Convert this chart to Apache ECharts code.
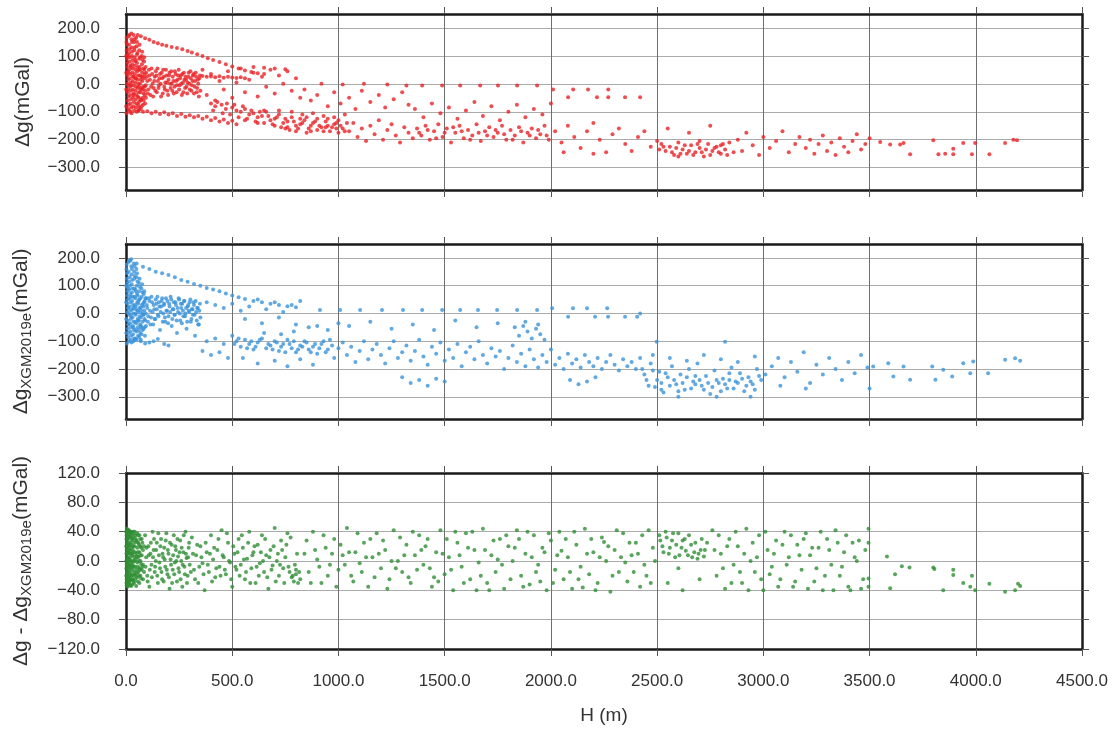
<!DOCTYPE html>
<html>
<head>
<meta charset="utf-8">
<title>Δg vs H</title>
<script src="https://cdn.jsdelivr.net/npm/echarts@6/dist/echarts.min.js"></script>
<style>
  html, body { margin: 0; padding: 0; background: #fff; }
  #chart { width: 1115px; height: 731px; }
</style>
</head>
<body>
<div id="chart"></div>
<script>
// tick values
const xTicks = [0, 500, 1000, 1500, 2000, 2500, 3000, 3500, 4000, 4500];
const gTicks = [-300, -200, -100, 0, 100, 200];
const diffTicks = [-120, -80, -40, 0, 40, 80, 120];

// panel 1: Δg (mGal) against H (m)
const dgObs = [
  // blob near H=0
  [2,150],[3,120],[4,90],[5,60],[6,30],[7,0],[8,-30],[9,-60],[10,-90],[3,-105],[12,170],[14,140],[15,110],[16,80],[17,50],[18,20],[19,-10],[20,-40],[21,-70],[22,-100],
  [25,180],[26,160],[27,130],[28,100],[29,70],[30,40],[31,10],[32,-20],[33,-50],[34,-80],[36,175],[38,150],[39,120],[40,95],[41,65],[42,35],[43,5],[44,-25],[45,-55],[46,-85],
  [48,165],[50,135],[51,105],[52,75],[53,45],[54,15],[55,-15],[56,-45],[57,-75],[58,-95],[62,120],[63,90],[64,60],[65,30],[66,0],[67,-30],[68,-60],[70,-90],
  [74,100],[75,70],[76,40],[77,10],[78,-20],[79,-50],[80,-75],[85,80],[86,50],[87,20],[88,-10],[89,-40],[90,-70],
  [1,100],[1,40],[1,-20],[1,-80],[11,100],[11,40],[11,-20],[23,60],[23,-5],[35,25],[35,-40],[47,85],[47,20],[60,50],[60,-10],[60,-50],[72,25],[72,-15],[82,55],[82,-35],
  [3,165],[5,140],[6,105],[7,75],[9,45],[10,15],[11,-5],[12,-45],[13,-75],[14,-95],[15,175],[17,125],[18,95],[20,65],[21,35],[22,5],[23,-25],[24,-55],[25,-85],[26,-105],
  [28,150],[29,115],[31,85],[32,55],[33,25],[34,-5],[36,-35],[37,-65],[38,-95],[40,160],[41,130],[43,80],[44,50],[45,20],[46,-10],[48,-40],[49,-70],[50,-100],[52,150],[54,110],
  [55,60],[57,30],[58,0],[59,-30],[61,-65],[62,-85],[64,140],[66,95],[67,50],[69,15],[70,-20],[71,-55],[73,-80],[76,115],[78,85],[80,25],[81,-10],[83,-60],[86,95],[88,35],
  [90,-25],[92,60],[93,-5],[94,-50],
  // upper arc
  [55,175],[70,170],[90,163],[110,158],[130,150],[150,145],[170,140],[190,136],[215,132],[240,128],[265,124],[290,118],[310,112],[335,106],[360,100],[385,92],[410,85],[440,78],[470,70],[500,62],[530,55],[560,48],[590,42],[620,38],[650,35],
  // band 90-350
  [95,40],[100,10],[105,-20],[110,30],[115,-40],[120,55],[125,0],[130,-15],[135,25],[140,45],[145,-30],[150,10],[155,-5],[160,35],[165,-45],[170,20],[175,50],[180,-10],[185,5],[190,30],
  [195,-25],[200,15],[205,40],[210,-15],[215,0],[220,25],[225,-35],[230,45],[235,10],[240,-5],[245,30],[250,-20],[255,20],[260,0],[265,35],[270,-30],[275,15],[280,25],[285,-10],[290,5],
  [295,40],[300,-20],[305,20],[310,-5],[315,30],[320,-35],[325,10],[330,25],[335,-15],[340,0],[345,20],[350,-25],
  [98,25],[103,-35],[108,50],[113,15],[118,-10],[123,35],[128,-45],[133,10],[138,-25],[143,30],[148,55],[153,-15],[158,20],[163,0],[168,40],[173,-35],[178,25],[183,-20],[188,50],[193,5],
  [198,-40],[203,30],[208,0],[213,45],[218,-25],[223,10],[228,-10],[233,35],[238,-30],[243,15],[248,50],[253,-5],[258,30],[263,-40],[268,5],[273,40],[278,-15],[283,15],[288,-35],[293,25],
  [298,0],[303,45],[308,-25],[313,10],[318,35],[323,-10],[328,40],[333,-30],[338,15],[343,-45],[348,30],
  [360,28],[380,25],[400,26],[420,24],[440,27],[460,22],[480,25],[500,23],[520,21],[540,24],[560,20],
  // lower arm
  [60,-95],[80,-100],[100,-98],[120,-105],[140,-100],[160,-108],[180,-102],[200,-110],[220,-105],[240,-115],[260,-108],[280,-118],[300,-112],[320,-120],[340,-115],[360,-125],
  [380,-118],[400,-130],[420,-122],[440,-135],[460,-128],[480,-140],[500,-132],[520,-145],
  // scatter 350-820
  [360,50],[380,-40],[400,35],[420,-60],[440,10],[460,-20],[480,45],[500,-50],[520,5],[540,55],[560,-30],[580,15],[600,40],[620,-45],[640,25],[660,-10],[680,50],[700,-35],
  [720,30],[740,0],[760,45],[780,-25],[800,20],[820,-50],[600,60],[650,58],[700,55],[750,52],
  // descending band
  [400,-70],[420,-80],[450,-75],[470,-90],[500,-85],[520,-95],[540,-100],[560,-90],[580,-110],[600,-105],[620,-120],[640,-115],[660,-100],[680,-130],[700,-125],[720,-110],
  [740,-140],[760,-135],[780,-120],[800,-150],[820,-145],[840,-130],[860,-160],[880,-140],[900,-125],[920,-155],[940,-135],[960,-170],[980,-145],[1000,-130],[1020,-160],[1040,-140],
  [560,-130],[620,-140],[700,-150],[750,-160],[800,-170],[850,-175],[900,-165],[950,-150],[1000,-175],[650,-95],[720,-95],[780,-100],[830,-110],[880,-105],[930,-115],[980,-120],
  [1030,-110],[760,-155],[820,-125],[870,-150],[940,-155],[990,-160],
  [410,-95],[430,-65],[455,-105],[475,-70],[490,-110],[510,-75],[530,-120],[550,-80],[570,-125],[590,-95],[610,-135],[630,-100],[650,-140],[670,-115],[690,-145],[710,-120],
  [730,-155],[750,-125],[770,-165],[790,-135],[810,-160],[830,-140],[850,-120],[870,-170],[890,-135],[910,-150],[930,-170],[950,-125],[970,-155],[990,-140],[1010,-150],[1030,-170],
  [840,-20],[870,-60],[900,-40],[950,-80],[980,-30],[1010,-70],[1050,-50],[1080,-90],[1110,-25],[1150,-65],[1190,-40],[1220,-85],[1260,-55],[1300,-30],[1330,-75],
  // row near 0
  [920,0],[1020,-2],[1120,0],[1230,-2],[1320,-6],[1394,-6],[1488,-6],[1573,-6],[1667,-6],[1751,-6],[1841,-6],[1935,-6],
  [1050,-170],[1070,-140],[1090,-190],[1110,-160],[1130,-205],[1150,-150],[1170,-180],[1190,-130],[1210,-200],[1230,-165],[1250,-145],[1270,-185],[1290,-210],[1310,-155],[1330,-175],[1350,-195],
  [1360,-90],[1400,-120],[1440,-70],[1480,-105],[1520,-85],[1560,-125],[1600,-95],[1640,-65],[1680,-115],[1720,-80],[1760,-130],[1800,-100],[1840,-75],[1880,-120],[1920,-90],[1960,-110],[2000,-70],
  [1370,-160],[1390,-185],[1410,-150],[1430,-200],[1450,-170],[1470,-145],[1490,-190],[1510,-160],[1530,-210],[1550,-175],[1570,-150],[1590,-195],[1610,-165],[1630,-185],[1650,-145],[1670,-205],
  [1690,-170],[1710,-155],[1730,-190],[1750,-175],[1770,-150],[1790,-200],[1810,-165],[1830,-185],[1850,-155],[1870,-210],[1890,-175],[1910,-160],[1930,-195],[1950,-180],[1970,-150],[1990,-200],
  [1380,-175],[1420,-165],[1460,-195],[1500,-175],[1540,-155],[1580,-170],[1620,-200],[1660,-175],[1700,-185],[1740,-165],[1780,-180],[1820,-200],[1860,-170],[1900,-185],[1940,-165],[1980,-185],
  [2010,-20],[2105,-20],[2175,-20],[2270,-20],[2081,-48],[2217,-48],[2270,-48],[2349,-48],[2420,-48],
  [2020,-170],[2050,-210],[2080,-150],[2110,-190],[2140,-230],[2170,-170],[2200,-140],[2230,-200],[2260,-245],[2290,-180],[2320,-160],[2350,-215],[2380,-240],[2410,-190],[2440,-170],[2470,-225],[2500,-205],[2060,-245],[2200,-250],
  [2520,-215],[2540,-240],[2560,-225],[2580,-255],[2600,-210],[2620,-235],[2640,-250],[2660,-220],[2680,-245],[2700,-230],[2720,-260],[2740,-215],[2760,-240],[2780,-225],[2800,-250],[2820,-235],[2840,-210],[2860,-245],
  [2510,-235],[2530,-225],[2570,-245],[2590,-230],[2610,-250],[2630,-220],[2650,-240],[2670,-255],[2690,-215],[2710,-245],[2730,-235],[2750,-255],[2770,-230],[2790,-245],[2810,-215],[2830,-255],
  [2550,-160],[2650,-175],[2750,-150],[2600,-260],[2700,-205],[2800,-220],
  [2880,-200],[2900,-240],[2920,-175],[2950,-220],[2980,-255],[3000,-190],[3030,-230],[3060,-205],[3090,-170],[3120,-245],[3150,-215],[3170,-190],
  [3200,-230],[3220,-200],[3240,-250],[3260,-215],[3280,-185],[3300,-240],[3320,-210],[3340,-255],[3360,-195],[3380,-225],[3400,-245],[3420,-205],[3440,-180],[3460,-235],[3480,-215],[3500,-195],
  // tail
  [3550,-208],[3597,-217],[3644,-217],[3660,-212],[3691,-252],[3800,-202],[3824,-252],[3856,-250],[3894,-232],[3894,-252],[3941,-212],[3982,-252],[3997,-212],[4064,-252],[4138,-212],[4177,-200],[4194,-202]
];

// panel 2: Δg XGM2019e (mGal)
const dgModel = [
  [2,160],[3,125],[4,95],[5,65],[6,35],[7,5],[8,-25],[9,-55],[10,-85],[4,-108],[12,185],[13,150],[14,115],[15,85],[16,55],[17,25],[18,-5],[19,-35],[20,-65],[21,-95],
  [24,195],[25,170],[26,140],[27,105],[28,75],[29,45],[30,15],[31,-15],[32,-45],[33,-75],[34,-100],[37,180],[38,150],[39,125],[40,90],[41,60],[42,30],[43,0],[44,-30],[45,-60],[46,-90],
  [49,160],[50,130],[51,100],[52,70],[53,40],[54,10],[55,-20],[56,-50],[57,-80],[61,110],[62,80],[63,50],[64,20],[65,-10],[66,-40],[67,-70],[69,-95],
  [73,90],[74,60],[75,30],[76,0],[77,-30],[78,-60],[84,70],[85,40],[86,10],[87,-20],[88,-50],[89,-80],
  [1,100],[1,40],[1,-20],[1,-70],[11,90],[11,20],[11,-40],[23,60],[23,-10],[35,20],[35,-50],[47,80],[47,15],[59,45],[59,-25],[71,10],[71,-45],[82,25],[82,-5],
  [3,175],[5,145],[6,110],[7,80],[9,50],[10,20],[11,0],[12,-40],[13,-70],[14,-100],[15,190],[17,130],[18,100],[20,70],[21,40],[22,10],[23,-20],[24,-50],[25,-80],[26,-105],
  [28,160],[29,120],[31,90],[32,60],[33,30],[34,0],[36,-30],[37,-60],[38,-90],[40,170],[41,135],[43,85],[44,55],[45,25],[46,-5],[48,-35],[49,-65],[50,-95],[52,145],[54,115],
  [55,65],[57,35],[58,5],[59,-25],[61,-60],[62,-85],[64,125],[66,95],[67,55],[69,20],[70,-15],[71,-50],[73,-75],[76,105],[78,75],[80,35],[81,-5],[83,-55],[86,80],[88,45],
  [90,-25],[92,55],[93,0],[94,-45],
  [20,190],[50,180],[80,168],[110,160],[140,150],[170,145],[200,138],[230,130],[260,120],[290,114],[320,106],[350,100],[380,92],[410,86],[440,80],[470,72],[500,65],[530,58],[560,52],
  [600,45],[640,40],[680,35],[720,30],[760,26],[800,22],
  [95,55],[100,20],[105,-10],[110,45],[115,-40],[120,60],[125,5],[130,30],[135,-20],[140,50],[145,15],[150,-5],[155,40],[160,-60],[165,25],[170,55],[175,0],[180,35],[185,-30],[190,10],
  [195,45],[200,-10],[205,25],[210,60],[215,-45],[220,15],[225,40],[230,-5],[235,30],[240,-70],[245,5],[250,50],[255,-25],[260,20],[265,35],[270,-10],[275,45],[280,0],[285,-55],[290,25],
  [295,10],[300,40],[305,-30],[310,15],[315,-5],[320,30],[325,-80],[330,5],[335,20],[340,-40],[345,10],[350,-15],
  [98,30],[103,-30],[108,55],[113,10],[118,-15],[123,40],[128,-40],[133,15],[138,-20],[143,35],[148,60],[153,-10],[158,25],[163,5],[168,45],[173,-30],[178,30],[183,-15],[188,55],[193,10],
  [198,-35],[203,35],[208,5],[213,50],[218,-20],[223,15],[228,-5],[233,40],[238,-25],[243,20],[248,55],[253,0],[258,35],[263,-35],[268,10],[273,45],[278,-10],[283,20],[288,-30],[293,30],
  [298,5],[303,50],[308,-20],[313,15],[318,40],[323,-5],[328,45],[333,-25],[338,20],[343,-40],[348,35],
  [40,-95],[70,-100],[110,-105],[150,-92],[180,-110],[200,-115],[130,-100],[90,-108],
  [360,-135],[400,-150],[440,-140],[480,-160],[380,-100],[420,-90],[460,-110],
  [380,40],[420,30],[460,20],[500,35],[540,10],[580,25],[620,50],[660,15],[700,40],[740,5],[780,30],[820,45],[560,-20],[640,-35],[720,-15],[800,-40],[860,-50],[900,-45],[950,-60],[1000,-35],
  [500,-80],[520,-100],[540,-120],[560,-95],[580,-110],[600,-130],[620,-105],[640,-90],[660,-125],[680,-115],[700,-100],[720,-135],[740,-110],[760,-95],[780,-125],[800,-140],[820,-115],
  [840,-100],[860,-130],[880,-120],[900,-145],[550,-160],[620,-180],[700,-170],[760,-190],[820,-165],[880,-185],[650,-70],[730,-75],[790,-65],
  [510,-110],[530,-90],[570,-125],[590,-100],[610,-120],[630,-95],[670,-110],[690,-130],[710,-105],[730,-120],[750,-140],[770,-110],[790,-100],[810,-130],[830,-120],[850,-105],
  [870,-140],[890,-110],[910,-125],[930,-100],[950,-130],[970,-115],
  [920,-110],[940,-140],[960,-95],[980,-160],[1000,-125],[1020,-105],[1040,-150],[1060,-120],[1080,-175],[1100,-135],[1120,-100],[1140,-165],[1160,-130],[1180,-110],[1200,-150],[1220,-180],
  [1240,-125],[1260,-100],[1280,-160],[1300,-140],[1320,-115],[1340,-170],[1360,-135],[1380,-95],[1400,-155],[1420,-185],[1440,-120],[1460,-145],[1480,-105],[1500,-170],[1520,-130],[1540,-160],
  [1560,-110],[1580,-190],[1600,-140],[1620,-120],[1640,-165],[1660,-100],[1680,-150],[1700,-180],[1720,-125],[1740,-155],[1760,-135],[1780,-200],[1800,-160],[1820,-115],[1840,-175],[1860,-145],
  [1880,-190],[1900,-130],[1920,-165],[1940,-195],[1960,-150],[1980,-175],[2000,-130],[2020,-185],[2040,-160],[2060,-200],[2080,-145],[2100,-180],[2120,-165],[2140,-195],[2160,-150],[2180,-175],
  [2200,-190],[2220,-160],[2240,-200],[2260,-175],[2280,-150],[2300,-185],[2320,-205],[2340,-165],[2360,-190],[2380,-175],[2400,-200],[2420,-160],
  [1050,-45],[1150,-30],[1250,-55],[1350,-40],[1450,-60],[1550,-25],[1650,-50],[1750,-35],
  [1830,-50],[1850,-80],[1870,-45],[1890,-65],[1910,-90],[1930,-55],[1950,-75],[1970,-95],[1880,-30],[1940,-40],
  [1300,-230],[1340,-250],[1380,-240],[1420,-260],[1460,-235],[1500,-245],[2090,-240],[2130,-255],[2170,-245],[2210,-230],
  [913,12],[1008,12],[1102,12],[1205,12],[1304,12],[1394,12],[1488,12],[1573,12],[1657,12],[1747,12],[1841,12],[1935,12],
  [2006,19],[2081,-12],[2104,19],[2170,19],[2208,-12],[2265,19],[2269,-12],[2349,-12],[2406,-12],[2420,0],[2498,-102],[2820,-102],
  [2430,-200],[2450,-240],[2470,-180],[2490,-265],[2510,-210],[2530,-285],[2550,-230],[2570,-190],[2590,-255],[2610,-220],[2630,-275],[2650,-200],[2670,-245],[2690,-180],[2710,-260],
  [2730,-225],[2750,-290],[2770,-205],[2790,-250],[2810,-235],[2830,-270],[2850,-195],[2870,-245],[2890,-215],[2910,-280],[2930,-230],[2950,-255],[2970,-200],[2990,-240],[3010,-220],
  [2440,-220],[2460,-260],[2480,-205],[2500,-240],[2520,-275],[2540,-215],[2560,-260],[2580,-240],[2600,-280],[2620,-250],[2640,-230],[2660,-270],[2680,-255],[2700,-240],
  [2720,-275],[2740,-250],[2760,-265],[2780,-240],[2800,-280],[2820,-255],[2840,-240],[2860,-270],[2880,-250],[2900,-235],[2920,-260],[2940,-245],[2960,-275],[2980,-225],
  [2480,-150],[2560,-160],[2640,-170],[2720,-150],[2800,-165],[2880,-175],[2960,-155],[2600,-300],[2780,-300],[2940,-300],[2520,-250],[2680,-225],[2840,-215],
  [3040,-190],[3070,-160],[3100,-230],[3130,-175],[3160,-210],[3190,-140],[3220,-250],[3250,-185],[3280,-220],[3310,-160],[3340,-200],[3370,-240],[3400,-175],[3430,-215],[3460,-150],
  [3490,-195],[3500,-270],[3200,-270],[3080,-260],
  [3517,-191],[3588,-179],[3612,-227],[3660,-191],[3691,-239],[3795,-191],[3810,-239],[3847,-203],[3889,-227],[3941,-179],[3974,-215],[3988,-173],[4058,-215],[4138,-167],[4185,-161],[4209,-170]
];

// panel 3: Δg − Δg XGM2019e (mGal)
const dgDiff = [
  [1,40],[1,20],[1,0],[1,-20],[2,30],[2,10],[2,-10],[2,-30],[4,44],[4,25],[4,5],[4,-15],[4,-33],[6,35],[6,15],[6,-5],[6,-25],[8,40],[8,22],[8,2],[8,-18],[8,-35],
  [10,30],[10,12],[10,-8],[10,-28],[13,42],[13,20],[13,0],[13,-22],[16,35],[16,15],[16,-5],[16,-30],[19,40],[19,25],[19,5],[19,-15],[19,-33],[22,32],[22,10],[22,-10],[22,-25],
  [26,38],[26,18],[26,-2],[26,-20],[30,30],[30,8],[30,-12],[30,-32],[34,40],[34,20],[34,0],[34,-20],[38,25],[38,5],[38,-15],[38,-30],[43,35],[43,12],[43,-8],[43,-25],
  [48,28],[48,8],[48,-12],[48,-34],[53,38],[53,18],[53,-2],[53,-22],[58,25],[58,5],[58,-15],[63,35],[63,12],[63,-10],[63,-30],[68,20],[68,0],[68,-20],[74,30],[74,8],[74,-12],
  [80,15],[80,-5],[80,-25],
  [3,35],[3,15],[3,-5],[3,-25],[5,40],[5,20],[5,0],[5,-20],[7,30],[7,10],[7,-10],[7,-30],[9,38],[9,17],[9,-3],[9,-23],[11,42],[11,25],[11,4],[11,-15],[11,-32],[14,33],[14,10],
  [14,-12],[14,-28],[17,40],[17,22],[17,2],[17,-20],[20,34],[20,14],[20,-6],[20,-26],[24,40],[24,22],[24,0],[24,-18],[24,-34],[28,28],[28,10],[28,-8],[28,-26],[32,36],[32,15],
  [32,-5],[32,-25],[36,32],[36,12],[36,-8],[36,-28],[41,40],[41,20],[41,0],[41,-18],[46,30],[46,2],[46,-20],[51,26],[51,6],[51,-16],[56,35],[56,12],[56,-8],[56,-28],[61,22],
  [61,0],[61,-20],[66,30],[66,8],[66,-12],[71,18],[71,-4],[71,-24],[77,25],[77,-8],[85,20],[85,-15],
  [90,35],[95,5],[100,-20],[105,20],[110,-35],[115,10],[120,-5],[125,40],[130,15],[135,-15],[140,0],[145,25],[150,-30],[155,8],[160,-10],[165,30],[170,-25],[175,5],[180,18],[185,-8],
  [190,38],[195,-18],[200,10],[205,-38],[210,2],[215,22],[220,-12],[225,35],[230,-2],[235,15],[240,-28],[245,6],[250,-15],[255,28],[260,0],[265,-35],[270,12],[275,-8],[280,40],[285,4],
  [290,-20],[295,18],[300,-5],[310,32],[320,-12],[330,8],[340,-30],[350,20],[360,-3],[370,-40],[380,12],[390,-15],[400,35],[410,2],[420,-22],[430,15],[440,-8],[450,42],[460,5],[470,-18],
  [480,25],[490,-2],[500,-35],[510,10],[520,-12],[530,30],[540,-5],[550,18],[560,-25],[570,3],[580,40],[590,-10],[600,12],[610,-30],[620,22],[630,-3],[640,35],[650,-15],[660,8],[670,-38],
  [680,15],[690,-6],[700,45],[710,0],[720,-20],[730,28],[740,-10],[750,5],[760,38],[770,-15],[780,-22],[790,-28],[800,-18],[810,-30],[820,-25],[800,-12],[785,-20],
  [92,-8],[97,18],[102,-28],[107,8],[112,-12],[117,25],[122,-22],[127,5],[132,30],[137,-8],[142,15],[147,-20],[152,38],[157,-2],[162,20],[167,-15],[172,10],[177,-28],[182,2],[187,28],
  [192,-12],[197,15],[202,-22],[207,25],[212,-5],[217,-30],[222,8],[227,-18],[232,20],[237,0],[242,30],[247,-10],[252,12],[257,-25],[262,18],[267,-5],[272,35],[277,-18],[282,10],[287,-30],
  [292,5],[297,25],[305,-15],[315,10],[325,-25],[335,22],[345,-8],[355,5],[365,-18],[375,25],[385,-5],[395,10],[405,-28],[415,18],[425,-10],[435,30],[445,-20],[455,8],[465,-12],[475,38],
  [485,0],[495,-25],[505,20],[515,-8],[525,12],[535,-20],[545,35],[555,2],[565,-15],[575,25],[585,-30],[595,8],[605,20],[615,-8],[625,-20],[635,12],[645,0],[655,30],[665,-22],[675,5],
  [685,-12],[695,20],[705,-28],[715,10],[725,-5],[735,15],[745,-30],[755,22],[765,-8],[775,32],[795,-5],[805,10],[815,-15],
  [840,10],[860,-15],[880,40],[900,2],[920,-30],[940,18],[960,-5],[980,30],[1000,-12],[1020,8],[1040,45],[1060,-20],[1080,12],[1100,-3],[1120,25],[1140,-35],[1160,5],[1180,38],
  [1200,-10],[1220,15],[1240,-25],[1260,42],[1280,0],[1300,-15],[1320,22],[1340,-30],[1360,8],[1380,35],
  [850,28],[870,-30],[890,15],[910,-8],[930,35],[950,-20],[970,10],[990,-35],[1010,22],[1030,-5],[1050,12],[1070,-28],[1090,38],[1110,-15],[1130,5],[1150,30],[1170,-22],[1190,10],
  [1210,28],[1230,-38],[1250,0],[1270,-10],[1290,32],[1310,8],[1330,-22],[1350,40],[1370,-12],[1390,15],
  [1400,-5],[1420,30],[1440,-35],[1460,12],[1480,42],[1500,-18],[1520,5],[1540,-40],[1560,25],[1580,-8],[1600,38],[1620,-25],[1640,15],[1660,-2],[1680,44],[1700,-30],[1720,8],[1740,-15],
  [1760,30],[1780,-38],[1800,20],[1820,0],[1840,42],[1860,-20],[1880,10],[1900,-32],[1920,35],[1940,-5],[1960,18],[1980,-40],[2000,28],[2020,-12],[2040,40],[2060,-25],[2080,5],[2100,-38],
  [2120,22],[2140,-8],[2160,44],[2180,-18],[2200,12],[2220,-30],[2240,32],[2260,0],[2280,-42],[2300,15],[2320,-15],[2340,38],[2360,-28],[2380,8],[2400,25],[2420,-35],[2440,-5],[2460,42],[2480,18],
  [1450,-22],[1550,40],[1650,-40],[1750,2],[1850,30],[1950,-28],[2050,14],[2150,-36],[2250,26],[2350,-2],[2450,-20],
  [1410,20],[1430,-10],[1470,-28],[1490,10],[1510,30],[1530,-12],[1570,8],[1590,-30],[1610,18],[1630,40],[1670,-20],[1690,15],[1710,-40],[1730,28],[1770,-5],[1790,35],[1810,-25],
  [1830,18],[1870,-35],[1890,40],[1910,5],[1930,-15],[1970,12],[1990,38],[2010,-30],[2030,8],[2070,30],[2090,-15],[2110,40],[2130,-25],[2170,10],[2190,30],[2210,-40],[2230,5],
  [2270,20],[2290,-20],[2310,42],[2330,5],[2370,25],[2390,-15],[2410,10],[2430,35],[2470,-30],[2490,0],
  [2510,35],[2525,20],[2540,40],[2555,10],[2570,28],[2585,5],[2600,38],[2615,18],[2630,30],[2645,8],[2660,22],[2675,12],[2690,3],[2705,15],[2720,6],[2735,25],[2550,-30],[2620,-40],[2700,-25],[2600,-10],
  [2515,28],[2530,12],[2545,32],[2560,18],[2575,38],[2590,22],[2605,8],[2620,28],[2635,14],[2650,35],[2665,5],[2680,25],[2695,10],[2710,30],[2725,15],
  [2760,42],[2780,-20],[2800,10],[2820,-38],[2840,30],[2860,-5],[2880,20],[2900,-30],[2920,44],[2940,0],[2960,-15],[2980,35],[3000,-40],[3020,15],[3040,-8],[3060,28],[3080,-25],[3100,40],
  [3120,5],[3140,-35],[3160,22],
  [2770,15],[2790,35],[2810,-10],[2830,20],[2850,-30],[2870,40],[2890,-15],[2910,10],[2930,-40],[2950,25],[2970,5],[2990,-25],[3010,40],[3030,-18],[3050,10],[3070,-35],[3090,22],[3110,-5],
  [3130,35],[3150,-28],[3170,8],[3190,30],[3210,-38],[3230,18],[3250,-10],[3270,40],[3290,-20],[3310,15],[3330,-40],[3350,25],[3370,-8],[3390,35],[3410,-40],[3430,5],[3450,28],[3470,-25],
  [3180,-12],[3200,38],[3220,8],[3240,-28],[3260,18],[3280,-40],[3300,30],[3320,-5],[3340,42],[3360,-20],[3380,12],[3400,-35],[3420,25],[3440,0],[3460,-38],[3480,15],
  [3495,44],[3495,25],[3495,-24],[3495,-35],[3582,6],[3620,-18],[3597,-37],[3652,-7],[3688,-9],[3800,-9],[3805,-11],[3847,-40],[3894,-12],[3894,-19],[3941,-30],[3974,-35],
  [3982,-20],[3997,-40],[4064,-31],[4138,-42],[4185,-40],[4199,-31],[4209,-34]
];

const FONT = 'Liberation Sans, Arial, sans-serif';
const frame = { onZero: false, lineStyle: { color: '#1a1a1a', width: 2.5 } };
const tick = { length: 7, lineStyle: { color: '#555', width: 1 } };

function fmt(v) {
  return (v < 0 ? '\u2212' : '') + Math.abs(v).toFixed(1);
}

const panels = [
  { top: 14, height: 176, min: -380, max: 250, ticks: gTicks, data: dgObs, color: '#ea2226',
    name: '{a|Δg(mGal)}' },
  { top: 244, height: 175, min: -380, max: 250, ticks: gTicks, data: dgModel, color: '#3b93db',
    name: '{a|Δg}{s|XGM2019e}{a|(mGal)}' },
  { top: 473, height: 176, min: -120, max: 120, ticks: diffTicks, data: dgDiff, color: '#2f8f34',
    name: '{a|Δg - Δg}{s|XGM2019e}{a|(mGal)}' }
];

const rich = {
  a: { fontSize: 21, fontFamily: FONT, color: '#333' },
  s: { fontSize: 15, fontFamily: FONT, color: '#333', padding: [10, 0, 0, 0] }
};

const grid = [], xAxis = [], yAxis = [], series = [];
panels.forEach((p, i) => {
  const last = i === panels.length - 1;
  grid.push({ left: 126, right: 33, top: p.top, height: p.height });
  xAxis.push({
    gridIndex: i, type: 'value', position: 'bottom', min: 0, max: 4500, interval: 500,
    axisLine: frame, axisTick: tick,
    axisLabel: { show: last, margin: 24, fontSize: 17, fontFamily: FONT, color: '#333', formatter: fmt },
    splitLine: { show: true, lineStyle: { color: '#6f6f6f', width: 1 } },
    name: last ? 'H (m)' : '', nameLocation: 'middle', nameGap: 57,
    nameTextStyle: { fontSize: 19, fontFamily: FONT, color: '#333' }
  });
  xAxis.push({
    gridIndex: i, type: 'value', position: 'top', min: 0, max: 4500, interval: 500,
    axisLine: frame, axisTick: tick, axisLabel: { show: false }, splitLine: { show: false }
  });
  yAxis.push({
    gridIndex: i, type: 'value', position: 'left', min: p.min, max: p.max,
    axisLine: frame,
    axisTick: Object.assign({ customValues: p.ticks }, tick),
    axisLabel: { customValues: p.ticks, margin: 26, fontSize: 17, fontFamily: FONT, color: '#333', formatter: fmt },
    splitLine: { show: true, lineStyle: { color: '#ababab', width: 1.2 } },
    name: p.name, nameLocation: 'middle', nameGap: 92,
    nameTextStyle: { rich: rich }
  });
  yAxis.push({
    gridIndex: i, type: 'value', position: 'right', min: p.min, max: p.max,
    axisLine: frame,
    axisTick: Object.assign({ customValues: p.ticks }, tick),
    axisLabel: { show: false }, splitLine: { show: false }
  });
  series.push({
    type: 'scatter', xAxisIndex: i * 2, yAxisIndex: i * 2,
    data: p.data, symbol: 'circle', symbolSize: 4,
    itemStyle: { color: p.color },
    silent: true
  });
});

const chart = echarts.init(document.getElementById('chart'));
chart.setOption({
  animation: false,
  backgroundColor: '#fff',
  grid: grid,
  xAxis: xAxis,
  yAxis: yAxis,
  series: series
});
</script>
</body>
</html>
